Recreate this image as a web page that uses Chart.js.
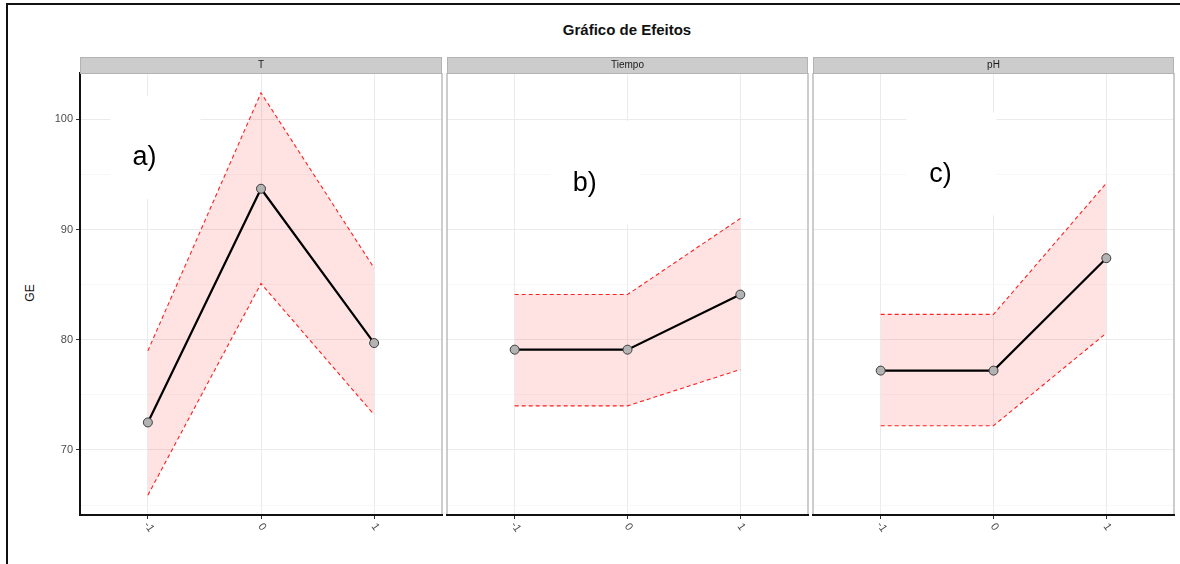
<!DOCTYPE html>
<html><head><meta charset="utf-8">
<script src="https://cdn.jsdelivr.net/npm/chart.js@4.4.1/dist/chart.umd.min.js"></script>
<style>
html,body{margin:0;padding:0;background:#fff;}
body{width:1180px;height:564px;position:relative;overflow:hidden;font-family:"Liberation Sans",Arial,sans-serif;}
#frame{position:absolute;left:6px;top:3px;width:1200px;height:600px;border-top:2px solid #111;border-left:2px solid #111;}
#title{position:absolute;left:0;width:1254px;top:21px;text-align:center;font-weight:bold;font-size:15px;color:#111;}
#ylab{position:absolute;left:30px;top:293px;transform:translate(-50%,-50%) rotate(-90deg);font-size:12px;color:#111;}
canvas{position:absolute;}
</style>
</head><body>
<div id="frame"></div>
<div id="title">Gráfico de Efeitos</div>
<div id="ylab">GE</div>
<canvas id="c1" width="404" height="509" style="left:40px;top:55px;width:404px;height:509px"></canvas>
<canvas id="c2" width="365" height="509" style="left:445px;top:55px;width:365px;height:509px"></canvas>
<canvas id="c3" width="365" height="509" style="left:811px;top:55px;width:365px;height:509px"></canvas>
<script>
// ---- data ----
const levels = [-1, 0, 1];
const xTickLabels = ['-1', '0', '1'];
const yTickLabels = [70, 80, 90, 100];
const yGridValues = [65, 70, 75, 80, 85, 90, 95, 100];
const panelNames = ['T', 'Tiempo', 'pH'];
const panelTags = ['a)', 'b)', 'c)'];
const tMean = [72.5, 93.7, 79.7];
const tUpper = [79.0, 102.4, 86.5];
const tLower = [65.9, 85.1, 73.2];
const tiempoMean = [79.1, 79.1, 84.1];
const tiempoUpper = [84.1, 84.1, 91.0];
const tiempoLower = [74.0, 74.0, 77.3];
const phMean = [77.2, 77.2, 87.4];
const phUpper = [82.3, 82.3, 94.2];
const phLower = [72.2, 72.2, 80.6];
// tag positions in data units [x, y]
const tagX = [-1.03, -0.38, -0.47];
const tagY = [96.5, 94.2, 95.0];

const FONT = '"Liberation Sans", Arial, sans-serif';

function pts(vals){ return levels.map((x,i)=>({x:x, y:vals[i]})); }

function decor(idx){
  return {
    id:'decor'+idx,
    beforeDatasetsDraw(chart){
      const c=chart.ctx, x=chart.scales.x.getPixelForValue(tagX[idx]), y=chart.scales.y.getPixelForValue(tagY[idx]);
      c.save(); c.fillStyle='#fff'; c.fillRect(x-34,y-62,90,103); c.restore();
    },
    afterDatasetsDraw(chart){
      const c=chart.ctx, x=chart.scales.x.getPixelForValue(tagX[idx]), y=chart.scales.y.getPixelForValue(tagY[idx]);
      c.save(); c.fillStyle='#000'; c.font='27px '+FONT; c.textAlign='center'; c.textBaseline='middle';
      c.fillText(panelTags[idx], x, y); c.restore();
    },
    afterDraw(chart){
      const c=chart.ctx, a=chart.chartArea;
      c.save();
      // panel border (non-axis sides)
      c.strokeStyle='#bdbdbd'; c.lineWidth=1.5;
      c.beginPath();
      c.moveTo(a.right, a.top); c.lineTo(a.right, a.bottom-1);
      if(idx>0){ c.moveTo(a.left, a.top); c.lineTo(a.left, a.bottom-1); }
      c.stroke();
      // strip
      c.fillStyle='#cccccc'; c.fillRect(a.left, a.top-16, a.right-a.left, 16);
      c.strokeStyle='#b3b3b3'; c.lineWidth=1;
      c.strokeRect(a.left+0.5, a.top-15.5, a.right-a.left-1, 16);
      c.fillStyle='#1a1a1a'; c.font='10px '+FONT; c.textAlign='center'; c.textBaseline='middle';
      c.fillText(panelNames[idx], (a.left+a.right)/2, a.top-8);
      // rotated x tick labels
      const xs=chart.scales.x;
      c.fillStyle='#4d4d4d'; c.font='11px '+FONT;
      levels.forEach((v,i)=>{
        const px=xs.getPixelForValue(v);
        c.save(); c.translate(px+1, a.bottom+12); c.rotate(55*Math.PI/180);
        c.textAlign='center'; c.textBaseline='middle'; c.fillText(xTickLabels[i],0,0); c.restore();
      });
      c.restore();
    }
  };
}

function makePanel(id, idx, mean, upper, lower){
  const first = idx===0;
  return new Chart(document.getElementById(id), {
    type:'line',
    data:{ datasets:[
      { data:pts(mean), borderColor:'#000', borderWidth:2.2, pointRadius:4.5, pointBackgroundColor:'#b3b3b3',
        pointBorderColor:'#3a3a3a', pointBorderWidth:1, fill:false, tension:0 },
      { data:pts(upper), borderColor:'#ff2020', borderWidth:1.1, borderDash:[4,3], pointRadius:0,
        fill:'+1', backgroundColor:'rgba(255,0,0,0.11)', tension:0 },
      { data:pts(lower), borderColor:'#ff2020', borderWidth:1.1, borderDash:[4,3], pointRadius:0, fill:false, tension:0 }
    ]},
    options:{
      responsive:false, animation:false, devicePixelRatio:1,
      layout:{autoPadding:false, padding:{top:18, right:2, left:0, bottom:0}},
      plugins:{legend:{display:false}, tooltip:{enabled:false}},
      scales:{
        x:{ type:'linear', min:-1.6, max:1.6,
          afterBuildTicks:s=>{ s.ticks = levels.map(v=>({value:v})); },
          afterFit:s=>{ s.height = 49; s.paddingLeft = 0; s.paddingRight = 0; },
          ticks:{display:false},
          grid:{color:'#ebebeb', lineWidth:1, tickColor:'#333', tickLength:4, drawTicks:true},
          border:{display:true, color:'#111', width:2}
        },
        y:{ type:'linear', min:64.1, max:104.2,
          afterBuildTicks:s=>{ s.ticks = yGridValues.map(v=>({value:v})); },
          afterFit:s=>{ s.width = first ? 40 : 2; s.paddingTop = 0; s.paddingBottom = 0; },
          ticks:{ display:first, padding:3, color:'#4d4d4d', font:{size:11, family:FONT},
            callback:v=> yTickLabels.includes(v) ? String(v) : '' },
          grid:{ color:c=> yTickLabels.includes(c.tick.value) ? '#ebebeb' : '#f4f4f4',
            lineWidth:c=> yTickLabels.includes(c.tick.value) ? 1 : 0.7,
            tickColor:c=> yTickLabels.includes(c.tick.value) ? '#333' : 'rgba(0,0,0,0)',
            tickLength:4, drawTicks:first },
          border:{display:first, color:'#111', width:2}
        }
      }
    },
    plugins:[decor(idx)]
  });
}

makePanel('c1', 0, tMean, tUpper, tLower);
makePanel('c2', 1, tiempoMean, tiempoUpper, tiempoLower);
makePanel('c3', 2, phMean, phUpper, phLower);
</script>
</body></html>
